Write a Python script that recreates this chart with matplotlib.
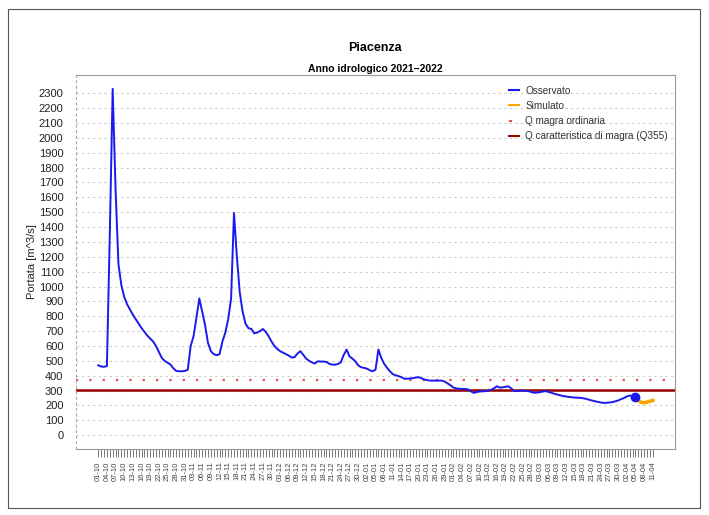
import matplotlib
matplotlib.use("Agg")
import matplotlib.pyplot as plt
from matplotlib.lines import Line2D
import numpy as np
import pandas as pd

plt.rcParams['font.family'] = ['Liberation Sans', 'DejaVu Sans']

# portate giornaliere osservate dal 01-10-2021 al 05-04-2022 [m^3/s]
osservato = [470, 462, 460, 465, 1350, 2330, 1650, 1150, 1010, 930,
             880, 845, 810, 780, 750, 720, 695, 670, 650, 630,
             600, 560, 520, 500, 488, 475, 450, 432, 430, 430,
             432, 440, 600, 665, 790, 920, 830, 740, 620, 565,
             545, 538, 545, 630, 690, 780, 920, 1495, 1200, 960,
             830, 750, 720, 715, 685, 690, 700, 714, 695, 665,
             630, 600, 580, 565, 555, 545, 535, 522, 525, 550,
             565, 540, 515, 500, 490, 482, 497, 495, 495, 493,
             480, 475, 474, 479, 490, 540, 576, 530, 515, 497,
             470, 457, 453, 448, 437, 430, 440, 576, 520, 480,
             453, 430, 410, 403, 397, 390, 379, 380, 381, 384,
             388, 390, 382, 374, 370, 367, 367, 367, 367, 367,
             360, 348, 335, 320, 315, 312, 311, 311, 308, 295,
             285, 290, 294, 295, 296, 300, 305, 315, 329, 320,
             322, 325, 329, 315, 298, 297, 299, 300, 298, 296,
             290, 285, 287, 289, 294, 296, 290, 285, 278, 273,
             268, 263, 260, 257, 255, 253, 252, 251, 248, 244,
             238, 233, 228, 224, 220, 217, 218, 220, 222, 228,
             233, 242, 250, 260, 267, 263, 258]
# portate simulate dal 05-04-2022 al 11-04-2022
simulato = [258, 235, 220, 218, 222, 228, 234]

q_magra_ordinaria = 370
q355 = 307

giorni = pd.date_range('2021-10-01', '2022-04-11', freq='D')
giorni_oss = giorni[:len(osservato)]
giorni_sim = giorni[len(osservato) - 1:len(osservato) - 1 + len(simulato)]

blu = '#1a1aee'
arancio = '#FFA500'
rosso = '#e05050'
rosso_scuro = '#990000'

fig = plt.figure(figsize=(7.09, 5.15), dpi=100)
ax = fig.add_axes([76 / 709, 1 - 449 / 515, 599 / 709, 374 / 515])

# cornice esterna
fig.patches.append(plt.Rectangle((8 / 709, 7 / 515), 692 / 709, 499 / 515,
                                 transform=fig.transFigure, fill=False,
                                 edgecolor='#555555', linewidth=0.8))

ax.set_yticks(np.arange(0, 2301, 100))
ax.yaxis.grid(True, color='#cccccc', linestyle=(0, (2, 3)), linewidth=0.8)
ax.set_axisbelow(True)

ax.axhline(q_magra_ordinaria, color=rosso, linestyle=(0, (1, 5)), linewidth=1.6, zorder=2)
ax.axhline(q355, color=rosso_scuro, linewidth=1.8, zorder=2)

ax.plot(giorni_sim, simulato, color=arancio, linewidth=2.6, zorder=3)
ax.plot(giorni_oss, osservato, color=blu, linewidth=1.4, zorder=4)
ax.plot(giorni_oss[-1:], osservato[-1:], 'o', color=blu, markersize=6, zorder=5)

ext = pd.Timedelta(days=7.7)
ax.set_xlim(giorni[0] - ext, giorni[-1] + ext)
ax.set_ylim(-93, 2423)

ax.set_xticks(giorni)
ax.set_xticklabels([g.strftime('%d-%m') if i % 3 == 0 else '' for i, g in enumerate(giorni)],
                   rotation=90, fontsize=5.5, color='#444444')
ax.tick_params(axis='x', length=6, width=0.5, color='#444444', pad=3)
ax.tick_params(axis='y', length=0, pad=9, labelsize=8, labelcolor='#222222')

for s in ['top', 'right', 'bottom']:
    ax.spines[s].set_color('#999999')
    ax.spines[s].set_linewidth(0.8)
ax.spines['left'].set_color('#aaaaaa')
ax.spines['left'].set_linestyle((0, (2, 3)))
ax.spines['left'].set_linewidth(0.8)

ax.set_ylabel('Portata [m^3/s]', fontsize=8, color='#222222', labelpad=1)

fig.text(375 / 709, 1 - 48 / 515, 'Piacenza', ha='center', va='center',
         fontsize=9, fontweight='bold')
fig.text(375 / 709, 1 - 69 / 515, 'Anno idrologico 2021\u22122022', ha='center', va='center',
         fontsize=7.5, fontweight='bold')

voci = ['Osservato', 'Simulato', 'Q magra ordinaria', 'Q caratteristica di magra (Q355)']
h = [Line2D([], [], color=blu, linewidth=1.5),
     Line2D([], [], color=arancio, linewidth=1.5),
     Line2D([], [], color=rosso, linewidth=1.5, linestyle=(1.5, (3, 10))),
     Line2D([], [], color=rosso_scuro, linewidth=1.5)]
leg = ax.legend(h, voci, loc='upper left', bbox_to_anchor=(0.712, 0.99), frameon=False,
                fontsize=7.2, handlelength=1.0, handletextpad=0.6, labelspacing=0.52,
                borderaxespad=0.3)
for t in leg.get_texts():
    t.set_color('#333333')

fig.savefig('out.png', dpi=100)
